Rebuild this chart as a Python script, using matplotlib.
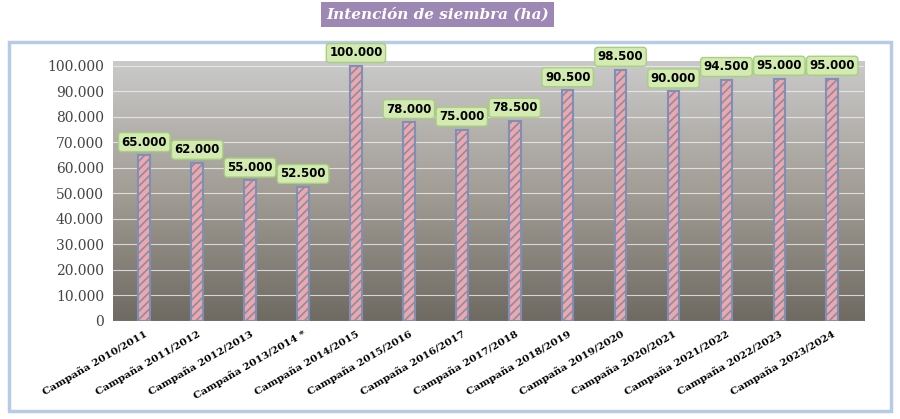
import matplotlib
matplotlib.use("Agg")
import matplotlib.pyplot as plt
import numpy as np
from matplotlib.patches import Rectangle
from matplotlib.colors import LinearSegmentedColormap

categories = ["Campaña 2010/2011", "Campaña 2011/2012", "Campaña 2012/2013", "Campaña 2013/2014 *",
              "Campaña 2014/2015", "Campaña 2015/2016", "Campaña 2016/2017", "Campaña 2017/2018",
              "Campaña 2018/2019", "Campaña 2019/2020", "Campaña 2020/2021", "Campaña 2021/2022",
              "Campaña 2022/2023", "Campaña 2023/2024"]
values = [65000, 62000, 55000, 52500, 100000, 78000, 75000, 78500, 90500, 98500, 90000, 94500, 95000, 95000]
labels = ["65.000", "62.000", "55.000", "52.500", "100.000", "78.000", "75.000", "78.500",
          "90.500", "98.500", "90.000", "94.500", "95.000", "95.000"]
yticks = list(range(0, 100001, 10000))
ytick_labels = ["0", "10.000", "20.000", "30.000", "40.000", "50.000", "60.000", "70.000",
                "80.000", "90.000", "100.000"]

plt.rcParams["hatch.color"] = "white"
plt.rcParams["hatch.linewidth"] = 1.2
fig = plt.figure(figsize=(9, 4.19), dpi=100)
fig.patch.set_facecolor("white")
fig.patches.append(Rectangle((0.01, 0.02), 0.98, 0.88, transform=fig.transFigure,
                             facecolor="none", edgecolor="#b8cbe6", linewidth=2.5, zorder=-1))
ax = fig.add_axes([0.125, 0.235, 0.835, 0.62])
cmap = LinearSegmentedColormap.from_list("bg", ["#6f6a62", "#a29d95", "#c9c9c9"])
grad = np.linspace(0, 1, 100).reshape(-1, 1)
ax.imshow(grad, extent=[-0.6, 13.6, 0, 102000], aspect="auto", cmap=cmap,
          origin="lower", zorder=0)
ax.set_xlim(-0.6, 13.6)
ax.set_ylim(0, 102000)
for y in yticks:
    ax.axhline(y, color="#eeeeee", lw=0.8, alpha=0.8, zorder=1)
x = np.arange(len(categories))
ax.bar(x, values, width=0.22, color="#f2a7a7", edgecolor="#7f8fb5", linewidth=1.5,
       hatch="////", zorder=2)
for xi, v, t in zip(x, values, labels):
    ax.text(xi, v + 2500, t, ha="center", va="bottom", fontsize=8.5, fontweight="bold",
            family="DejaVu Sans", zorder=4,
            bbox=dict(boxstyle="round,pad=0.25", facecolor="#d3ebb0", edgecolor="#a8cf80"))
ax.set_yticks(yticks)
ax.set_yticklabels(ytick_labels, fontsize=10, family="DejaVu Serif", color="#444444")
ax.set_xticks(x)
ax.set_xticklabels(categories, rotation=30, ha="right", rotation_mode="anchor", fontsize=7.5,
                   fontweight="bold", family="DejaVu Serif")
ax.tick_params(length=0, pad=6)
for s in ax.spines.values():
    s.set_visible(False)
fig.text(0.486, 0.965, "Intención de siembra (ha)", ha="center", va="center", fontsize=11,
         style="italic", fontweight="bold", family="DejaVu Serif", color="white",
         bbox=dict(boxstyle="square,pad=0.35", facecolor="#9c87b5", edgecolor="none"))
fig.savefig("out.png", dpi=100)
